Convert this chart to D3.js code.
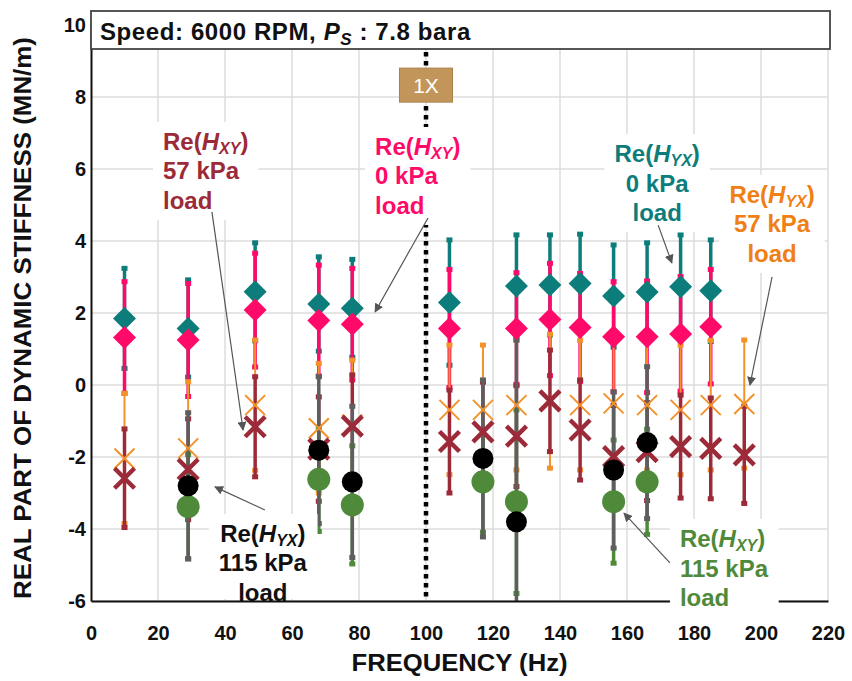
<!DOCTYPE html>
<html>
<head>
<meta charset="utf-8">
<script src="https://cdn.jsdelivr.net/npm/d3@7"></script>
<style>
  body { margin: 0; background: #fff; }
  svg { display: block; }
  text { font-family: "Liberation Sans", Arial, sans-serif; font-weight: bold; }
</style>
</head>
<body>
<svg id="chart" width="852" height="681"></svg>
<script>
// Excitation frequencies (Hz)
const frequencies = [10, 29, 49, 68, 78, 107, 117, 127, 137, 146, 156, 166, 176, 185, 195];

// Real part of dynamic stiffness (MN/m) and its uncertainty, per series
const hyx0    = [1.85, 1.57, 2.59, 2.25, 2.13, 2.29, null, 2.75, 2.78, 2.82, 2.47, 2.58, 2.73, 2.62, null];
const hyx0Err = [1.39, 1.35, 1.36, 1.31, 1.36, 1.74, null, 1.42, 1.39, 1.37, 1.42, 1.37, 1.44, 1.41, null];

const hxy0    = [1.32, 1.25, 2.08, 1.79, 1.69, 1.57, null, 1.57, 1.82, 1.60, 1.34, 1.34, 1.42, 1.62, null];
const hxy0Err = [1.55, 1.57, 1.58, 1.54, 1.55, 1.64, null, 1.55, 1.56, 1.50, 1.53, 1.55, 1.59, 1.59, null];

const hyx57    = [-2.04, -1.76, -0.56, -1.20, -1.10, -0.69, -0.69, -0.56, -0.45, -0.56, -0.51, -0.56, -0.69, -0.56, -0.53];
const hyx57Err = [1.81, 1.85, 1.81, 1.80, 1.79, 1.80, 1.80, 1.80, 1.86, 1.80, 1.80, 1.80, 1.80, 1.80, 1.78];

const hxy57    = [-2.59, -2.34, -1.16, -1.78, -1.14, -1.57, -1.30, -1.42, -0.44, -1.25, -1.99, -1.85, -1.71, -1.76, -1.94];
const hxy57Err = [1.37, 1.40, 1.39, 1.45, 1.42, 1.43, 1.38, 1.40, 1.41, 1.39, 1.42, 1.36, 1.43, 1.40, 1.35];

const hxy115    = [null, -3.38, null, -2.62, -3.33, null, -2.69, -3.24, null, null, -3.24, -2.69, null, null, null];
const hxy115Err = [null, 1.45, null, 1.45, 1.64, null, 1.40, 2.55, null, null, 1.71, 1.46, null, null, null];

const hyx115    = [null, -2.80, null, -1.81, -2.69, null, -2.04, -3.80, null, null, -2.36, -1.60, null, null, null];
const hyx115Err = [null, 2.03, null, 2.04, 2.10, null, 2.18, 5.05, null, null, 2.17, 2.11, null, null, null];

// Axis ticks
const xTicks = [0, 20, 40, 60, 80, 100, 120, 140, 160, 180, 200, 220];
const yTicks = [-6, -4, -2, 0, 2, 4, 6, 8, 10];

// Running speed marker (1X)
const syncFrequency = 100;

const svg = d3.select("#chart");
const x = d3.scaleLinear().domain([0, 220]).range([91, 828]);
const y = d3.scaleLinear().domain([-6, 10]).range([601, 25]);

const defs = svg.append("defs");
defs.append("clipPath").attr("id", "plotClip")
  .append("rect")
  .attr("x", x(0)).attr("y", y(10))
  .attr("width", x(220) - x(0)).attr("height", y(-6) - y(10));
defs.append("marker")
  .attr("id", "arrowHead")
  .attr("viewBox", "0 0 10 10")
  .attr("refX", 9).attr("refY", 5)
  .attr("markerWidth", 9).attr("markerHeight", 9)
  .attr("markerUnits", "userSpaceOnUse")
  .attr("orient", "auto")
  .append("path").attr("d", "M0,0 L10,5 L0,10 Z").attr("fill", "#555");

// Gridlines
const grid = svg.append("g").attr("class", "grid");
grid.selectAll("line.v").data(xTicks.filter(d => d > 0)).join("line")
  .attr("x1", d => x(d)).attr("x2", d => x(d))
  .attr("y1", y(10)).attr("y2", y(-6))
  .attr("stroke", "#dcdcdc").attr("stroke-width", 1.5);
grid.selectAll("line.h").data(yTicks).join("line")
  .attr("x1", x(0)).attr("x2", x(220))
  .attr("y1", d => y(d)).attr("y2", d => y(d))
  .attr("stroke", "#dcdcdc").attr("stroke-width", 1.5);

// 1X dotted line
svg.append("line")
  .attr("x1", x(syncFrequency)).attr("x2", x(syncFrequency))
  .attr("y1", y(10)).attr("y2", y(-6))
  .attr("stroke", "#000").attr("stroke-width", 4.5)
  .attr("stroke-dasharray", "4.5,4.5");

// Series drawing
const series = [
  { values: hyx0,   errors: hyx0Err,   color: "#0d7d7b", barColor: "#0d7d7b", barWidth: 3.5, marker: "diamond", size: 11.5 },
  { values: hxy0,   errors: hxy0Err,   color: "#ff0a68", barColor: "#ff0a68", barWidth: 3.5, marker: "diamond", size: 11.5 },
  { values: hyx57,  errors: hyx57Err,  color: "#f3922b", barColor: "#f3922b", barWidth: 2,   marker: "x",       size: 10, stroke: 2 },
  { values: hxy57,  errors: hxy57Err,  color: "#9c2a38", barColor: "#9c2a38", barWidth: 3.5, marker: "cross",   size: 10, stroke: 4.5 },
  { values: hxy115, errors: hxy115Err, color: "#4f8a3b", barColor: "#4f8a3b", barWidth: 3.5, marker: "circle",  size: 11.5 },
  { values: hyx115, errors: hyx115Err, color: "#000000", barColor: "#5e5e5e", barWidth: 3.5, marker: "circle",  size: 10.5 }
];

const plot = svg.append("g").attr("class", "series");

// Error bars for every series, clipped to the plot area
series.forEach(s => {
  const pts = frequencies.map((f, i) => ({ f, v: s.values[i], e: s.errors[i] })).filter(p => p.v !== null);
  const g = plot.append("g").attr("clip-path", "url(#plotClip)");
  g.selectAll("line.bar").data(pts).join("line")
    .attr("x1", p => x(p.f)).attr("x2", p => x(p.f))
    .attr("y1", p => y(p.v + p.e)).attr("y2", p => y(p.v - p.e))
    .attr("stroke", s.barColor).attr("stroke-width", s.barWidth);
  g.selectAll("rect.cap").data(pts.flatMap(p => [p.v + p.e, p.v - p.e].map(v => ({ f: p.f, v })))).join("rect")
    .attr("x", p => x(p.f) - 3).attr("y", p => y(p.v) - 2.5)
    .attr("width", 6).attr("height", 5)
    .attr("fill", s.barColor);
});

// Markers
series.forEach(s => {
  const pts = frequencies.map((f, i) => ({ f, v: s.values[i] })).filter(p => p.v !== null);
  const g = plot.append("g");
  const r = s.size;
  if (s.marker === "diamond") {
    g.selectAll("path").data(pts).join("path")
      .attr("d", p => `M${x(p.f)},${y(p.v) - r} L${x(p.f) + r},${y(p.v)} L${x(p.f)},${y(p.v) + r} L${x(p.f) - r},${y(p.v)} Z`)
      .attr("fill", s.color);
  } else if (s.marker === "circle") {
    g.selectAll("circle").data(pts).join("circle")
      .attr("cx", p => x(p.f)).attr("cy", p => y(p.v)).attr("r", r)
      .attr("fill", s.color);
  } else {
    g.selectAll("path").data(pts).join("path")
      .attr("d", p => `M${x(p.f) - r},${y(p.v) - r} L${x(p.f) + r},${y(p.v) + r} M${x(p.f) - r},${y(p.v) + r} L${x(p.f) + r},${y(p.v) - r}`)
      .attr("stroke", s.color).attr("stroke-width", s.stroke).attr("fill", "none");
  }
});

// Series annotations with leader arrows
const annotations = [
  { sub: "XY", load: "57 kPa",  color: "#9c2a38", anchor: "start",  at: [21.5, 6.53],  from: [36.1, 4.81],  to: [45.4, -1.25] },
  { sub: "XY", load: "0 kPa",   color: "#ff0a68", anchor: "start",  at: [84.8, 6.39],  from: [100.6, 4.64], to: [84.8, 2.03] },
  { sub: "YX", load: "0 kPa",   color: "#0d7d7b", anchor: "middle", at: [169, 6.19],   from: [169.3, 4.44], to: [173.4, 3.39] },
  { sub: "YX", load: "57 kPa",  color: "#f07f14", anchor: "middle", at: [203.3, 5.06], from: [203.3, 3.0],  to: [196.7, 0.0] },
  { sub: "YX", load: "115 kPa", color: "#111111", anchor: "middle", at: [51.3, -4.36], from: [51.9, -3.47], to: [37.0, -2.83], trimBottom: true },
  { sub: "XY", load: "115 kPa", color: "#4f8a3b", anchor: "start",  at: [175.8, -4.5], from: [172.8, -4.94], to: [159.1, -3.56], overAxis: true }
];
const lineStep = 29.5;
function drawAnnotation(a) {
  const g = svg.append("g");
  const bg = g.append("rect").attr("fill", "#fff");
  const t = g.append("text").attr("font-size", 24).attr("fill", a.color).attr("text-anchor", a.anchor);
  const ax = x(a.at[0]), ay = y(a.at[1]);
  const l1 = t.append("tspan").attr("x", ax).attr("y", ay);
  l1.append("tspan").text("Re(");
  l1.append("tspan").attr("font-style", "italic").text("H");
  l1.append("tspan").attr("font-style", "italic").attr("font-size", 16).attr("dy", 4).text(a.sub);
  l1.append("tspan").attr("dy", -4).text(")");
  t.append("tspan").attr("x", ax).attr("y", ay + lineStep).text(a.load);
  t.append("tspan").attr("x", ax).attr("y", ay + 2 * lineStep).text("load");
  const bb = t.node().getBBox();
  const bottom = a.trimBottom ? Math.min(bb.y + bb.height + 2, y(-6) - 2) : bb.y + bb.height + 6;
  bg.attr("x", bb.x - 10).attr("y", bb.y - 6).attr("width", bb.width + 20).attr("height", bottom - (bb.y - 6));
  svg.append("line")
    .attr("x1", x(a.from[0])).attr("y1", y(a.from[1]))
    .attr("x2", x(a.to[0])).attr("y2", y(a.to[1]))
    .attr("stroke", "#555").attr("stroke-width", 1.2)
    .attr("marker-end", "url(#arrowHead)");
}
annotations.filter(a => !a.overAxis).forEach(drawAnnotation);

// Axes (plain hyphen-minus for negative ticks)
const tickText = d => String(d);
const xAxis = svg.append("g")
  .attr("transform", `translate(0,${y(-6)})`)
  .call(d3.axisBottom(x).tickValues(xTicks).tickFormat(tickText).tickSize(0).tickPadding(25));
const yAxis = svg.append("g")
  .attr("transform", `translate(${x(0)},0)`)
  .call(d3.axisLeft(y).tickValues(yTicks).tickFormat(tickText).tickSize(0).tickPadding(5));
[xAxis, yAxis].forEach(a => {
  a.selectAll(".tick text").attr("font-size", 20).attr("fill", "#111");
  a.select(".domain").attr("stroke", "#111").attr("stroke-width", 2);
});

// Annotation that sits over the frequency axis line
annotations.filter(a => a.overAxis).forEach(drawAnnotation);

// Axis titles
svg.append("text")
  .attr("x", x(110)).attr("y", 671)
  .attr("text-anchor", "middle").attr("font-size", 24).attr("fill", "#111")
  .attr("textLength", 216).attr("lengthAdjust", "spacingAndGlyphs")
  .text("FREQUENCY (Hz)");
svg.append("text")
  .attr("transform", "translate(31,318) rotate(-90)")
  .attr("text-anchor", "middle").attr("font-size", 24).attr("fill", "#111")
  .attr("textLength", 562).attr("lengthAdjust", "spacingAndGlyphs")
  .text("REAL PART OF DYNAMIC STIFFNESS (MN/m)");

// 1X badge
const badge = svg.append("g").attr("transform", `translate(${x(syncFrequency)},${y(8.33)})`);
badge.append("rect").attr("x", -26.5).attr("y", -17).attr("width", 53).attr("height", 34)
  .attr("fill", "#c2965a").attr("stroke", "#a98048").attr("stroke-width", 1);
badge.append("text").attr("text-anchor", "middle").attr("y", 8)
  .attr("font-size", 21).style("font-weight", "normal").attr("fill", "#fff").text("1X");

// Title box
svg.append("rect").attr("x", x(0)).attr("y", 11).attr("width", 739).attr("height", 38)
  .attr("fill", "#fff").attr("stroke", "#444").attr("stroke-width", 1.8);
const title = svg.append("text").attr("x", 100).attr("y", 40).attr("font-size", 24).attr("fill", "#111")
  .style("letter-spacing", "0.6px");
title.append("tspan").text("Speed: 6000 RPM, ");
title.append("tspan").attr("font-style", "italic").text("P");
title.append("tspan").attr("font-style", "italic").attr("font-size", 17).attr("dy", 5).text("S");
title.append("tspan").attr("dy", -5).text(" : 7.8 bara");
</script>
</body>
</html>
